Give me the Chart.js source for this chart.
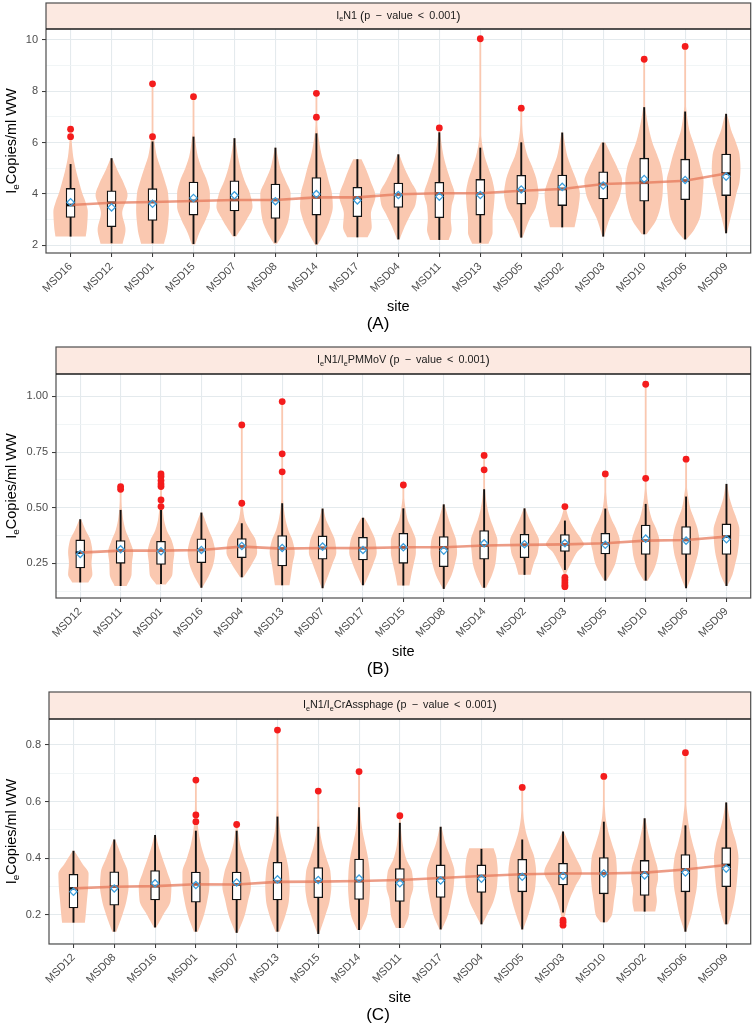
<!DOCTYPE html>
<html><head><meta charset="utf-8">
<script src="https://cdn.jsdelivr.net/npm/chart.js@4.4.1/dist/chart.umd.min.js"></script>
<style>
html,body{margin:0;padding:0;background:#fff;width:756px;height:1026px;overflow:hidden}
.p{position:absolute;left:0;width:756px}
canvas{display:block}
</style></head>
<body>
<div class="p" style="top:0;height:336px"><canvas id="cA" width="756" height="336"></canvas></div>
<div class="p" style="top:336px;height:344px"><canvas id="cB" width="756" height="344"></canvas></div>
<div class="p" style="top:680px;height:346px"><canvas id="cC" width="756" height="346"></canvas></div>
<script>
// ---------------- Panel A : IeN1 ----------------
const catsA = ['MSD16','MSD12','MSD01','MSD15','MSD07','MSD08','MSD14','MSD17','MSD04','MSD11','MSD13','MSD05','MSD02','MSD03','MSD10','MSD06','MSD09'];
const loA   = [2.33,2.07,2.07,2.04,2.35,2.09,2.03,2.30,2.22,2.20,2.09,2.29,2.69,2.33,2.42,2.22,2.46];
const q1A   = [3.08,2.72,2.96,3.17,3.33,3.04,3.17,3.11,3.47,3.07,3.17,3.60,3.54,3.80,3.71,3.77,3.93];
const medA  = [3.56,3.65,3.68,3.72,3.76,3.76,3.86,3.86,3.98,4.02,4.02,4.12,4.19,4.38,4.43,4.51,4.79];
const q3A   = [4.21,4.12,4.20,4.46,4.51,4.38,4.63,4.25,4.42,4.45,4.56,4.72,4.73,4.86,5.39,5.35,5.55];
const hiA   = [5.16,5.39,6.04,6.23,6.17,5.80,6.36,5.35,5.54,6.40,5.80,6.01,6.39,6.00,7.38,7.21,7.12];
const meanA = [3.67,3.47,3.61,3.84,3.94,3.71,3.99,3.74,3.95,3.89,3.95,4.17,4.27,4.32,4.58,4.54,4.67];
const outA  = [[6.23,6.52],[],[6.23,8.29],[7.79],[],[],[6.99,7.92],[],[],[6.57],[10.05],[7.34],[],[],[9.25],[9.75],[]];
const vioA = [
 [[2.33,0.37],[2.7,0.40],[3.3,0.42],[3.7,0.36],[4.0,0.29],[4.5,0.2],[5.0,0.12],[5.5,0.06],[6.0,0.03],[6.52,0.01]],
 [[2.05,0.27],[2.6,0.34],[3.25,0.26],[3.95,0.39],[4.4,0.3],[4.9,0.15],[5.39,0.02]],
 [[2.05,0.28],[2.6,0.36],[3.4,0.4],[4.0,0.38],[4.5,0.3],[5.0,0.2],[5.5,0.1],[6.0,0.05],[6.5,0.02],[8.29,0.01]],
 [[2.02,0.04],[2.5,0.15],[3.0,0.3],[3.5,0.4],[4.0,0.4],[4.5,0.33],[5.0,0.2],[5.5,0.1],[6.0,0.05],[6.5,0.02],[7.79,0.01]],
 [[2.33,0.04],[3.0,0.3],[3.5,0.44],[4.0,0.38],[4.5,0.25],[5.0,0.15],[5.5,0.08],[6.0,0.03],[6.17,0.01]],
 [[2.05,0.04],[2.5,0.2],[3.0,0.32],[3.5,0.36],[4.0,0.37],[4.5,0.25],[5.0,0.12],[5.5,0.05],[5.8,0.015]],
 [[2.0,0.03],[2.5,0.2],[3.0,0.33],[3.5,0.4],[4.0,0.38],[4.5,0.3],[5.0,0.22],[5.5,0.13],[6.0,0.07],[6.5,0.03],[7.0,0.015],[7.92,0.01]],
 [[2.3,0.25],[2.7,0.35],[3.2,0.33],[3.9,0.44],[4.5,0.32],[5.0,0.2],[5.35,0.1]],
 [[2.22,0.03],[2.7,0.15],[3.2,0.3],[3.6,0.42],[4.0,0.45],[4.5,0.3],[5.0,0.15],[5.54,0.02]],
 [[2.2,0.23],[2.6,0.3],[3.0,0.28],[3.5,0.3],[4.0,0.37],[4.5,0.28],[5.0,0.18],[5.5,0.1],[6.0,0.05],[6.57,0.01]],
 [[2.05,0.2],[2.5,0.3],[3.0,0.3],[3.5,0.33],[4.0,0.35],[4.5,0.3],[5.0,0.2],[5.5,0.1],[6.0,0.04],[6.5,0.015],[10.05,0.01]],
 [[2.29,0.03],[3.0,0.2],[3.5,0.36],[4.0,0.42],[4.5,0.38],[5.0,0.28],[5.5,0.15],[6.0,0.07],[6.5,0.03],[7.34,0.01]],
 [[2.69,0.3],[3.0,0.34],[3.5,0.4],[4.0,0.43],[4.5,0.35],[5.0,0.23],[5.5,0.12],[6.0,0.06],[6.39,0.02]],
 [[2.33,0.02],[3.0,0.15],[3.5,0.3],[4.0,0.42],[4.5,0.46],[5.0,0.35],[5.5,0.2],[6.0,0.05]],
 [[2.42,0.06],[3.0,0.3],[3.5,0.4],[4.0,0.45],[4.5,0.46],[5.0,0.42],[5.5,0.32],[6.0,0.2],[6.5,0.12],[7.0,0.06],[7.5,0.02],[9.25,0.01]],
 [[2.22,0.03],[2.6,0.22],[3.2,0.38],[4.0,0.43],[4.5,0.45],[5.0,0.38],[5.5,0.3],[6.0,0.2],[6.5,0.1],[7.0,0.05],[7.5,0.02],[9.75,0.01]],
 [[2.46,0.02],[3.0,0.1],[3.5,0.18],[4.0,0.25],[4.5,0.33],[5.0,0.35],[5.5,0.33],[6.0,0.24],[6.5,0.12],[7.0,0.04],[7.12,0.01]]
];
const yTickValsA = [2,3,4,5,6,7,8,9,10];
const yMajorA = [2,4,6,8,10];
const yLabelA = ['2','4','6','8','10'];
const stripA = [['I','n'],['e','s'],['N1 ','n'],['(','b'],['p \u2009\u2212\u2009 value \u2009<\u2009 0.001','n'],[')','b']];

// ---------------- Panel B : IeN1/IePMMoV ----------------
const catsB = ['MSD12','MSD11','MSD01','MSD16','MSD04','MSD13','MSD07','MSD17','MSD15','MSD08','MSD14','MSD02','MSD03','MSD05','MSD10','MSD06','MSD09'];
const loB   = [0.164,0.148,0.157,0.140,0.187,0.151,0.138,0.151,0.150,0.135,0.140,0.198,0.220,0.172,0.172,0.138,0.148];
const q1B   = [0.229,0.250,0.245,0.253,0.275,0.238,0.268,0.265,0.250,0.235,0.268,0.275,0.303,0.292,0.290,0.290,0.290];
const medB  = [0.298,0.307,0.307,0.310,0.325,0.316,0.319,0.318,0.322,0.322,0.330,0.333,0.335,0.340,0.352,0.355,0.370];
const q3B   = [0.355,0.352,0.349,0.360,0.361,0.375,0.373,0.367,0.385,0.370,0.397,0.380,0.379,0.385,0.422,0.415,0.427];
const hiB   = [0.448,0.490,0.490,0.478,0.430,0.520,0.496,0.455,0.497,0.515,0.583,0.497,0.442,0.496,0.517,0.550,0.607];
const meanB = [0.292,0.313,0.304,0.310,0.328,0.319,0.325,0.310,0.322,0.307,0.340,0.336,0.340,0.333,0.361,0.352,0.358];
const outB  = [[],[0.583,0.595],[0.505,0.535,0.595,0.607,0.622,0.640,0.652],[],[0.520,0.872],[0.661,0.742,0.977],[],[],[0.602],[],[0.670,0.735],[],[0.145,0.152,0.163,0.175,0.187,0.505],[0.652],[0.632,1.055],[0.718],[]];
const vioB = [
 [[0.164,0.2],[0.2,0.3],[0.25,0.28],[0.3,0.3],[0.35,0.26],[0.4,0.13],[0.448,0.02]],
 [[0.148,0.15],[0.2,0.27],[0.25,0.28],[0.3,0.31],[0.35,0.23],[0.4,0.12],[0.45,0.06],[0.5,0.03],[0.595,0.01]],
 [[0.155,0.12],[0.2,0.28],[0.25,0.3],[0.3,0.33],[0.35,0.27],[0.4,0.14],[0.45,0.07],[0.5,0.04],[0.55,0.02],[0.652,0.01]],
 [[0.14,0.02],[0.2,0.2],[0.25,0.3],[0.3,0.34],[0.35,0.29],[0.4,0.18],[0.45,0.08],[0.478,0.02]],
 [[0.187,0.04],[0.25,0.26],[0.3,0.38],[0.35,0.35],[0.4,0.2],[0.45,0.07],[0.5,0.03],[0.55,0.012],[0.872,0.01]],
 [[0.151,0.18],[0.2,0.22],[0.25,0.26],[0.3,0.31],[0.35,0.26],[0.4,0.15],[0.45,0.08],[0.5,0.04],[0.55,0.02],[0.977,0.01]],
 [[0.138,0.02],[0.2,0.15],[0.25,0.25],[0.3,0.34],[0.35,0.31],[0.4,0.2],[0.45,0.08],[0.496,0.02]],
 [[0.151,0.03],[0.2,0.15],[0.25,0.26],[0.3,0.34],[0.35,0.31],[0.4,0.2],[0.455,0.04]],
 [[0.15,0.15],[0.2,0.2],[0.25,0.26],[0.3,0.31],[0.35,0.31],[0.4,0.22],[0.45,0.1],[0.5,0.05],[0.55,0.02],[0.602,0.01]],
 [[0.135,0.02],[0.2,0.2],[0.25,0.28],[0.3,0.33],[0.35,0.31],[0.4,0.22],[0.45,0.12],[0.515,0.02]],
 [[0.14,0.05],[0.2,0.2],[0.25,0.28],[0.3,0.31],[0.35,0.33],[0.4,0.25],[0.45,0.15],[0.5,0.08],[0.55,0.04],[0.6,0.02],[0.735,0.01]],
 [[0.198,0.15],[0.25,0.23],[0.3,0.33],[0.35,0.36],[0.4,0.25],[0.45,0.12],[0.497,0.02]],
 [[0.145,0.01],[0.2,0.03],[0.25,0.15],[0.3,0.3],[0.335,0.47],[0.36,0.4],[0.4,0.25],[0.45,0.1],[0.505,0.015]],
 [[0.172,0.03],[0.22,0.18],[0.25,0.25],[0.3,0.31],[0.35,0.36],[0.4,0.28],[0.45,0.15],[0.5,0.06],[0.55,0.03],[0.6,0.015],[0.652,0.01]],
 [[0.172,0.05],[0.22,0.2],[0.25,0.26],[0.3,0.32],[0.35,0.34],[0.4,0.27],[0.45,0.15],[0.5,0.08],[0.55,0.04],[0.6,0.02],[1.055,0.01]],
 [[0.138,0.02],[0.2,0.15],[0.25,0.23],[0.3,0.3],[0.35,0.33],[0.4,0.29],[0.45,0.2],[0.5,0.1],[0.55,0.05],[0.6,0.02],[0.718,0.01]],
 [[0.148,0.02],[0.2,0.15],[0.25,0.22],[0.3,0.28],[0.35,0.31],[0.4,0.32],[0.45,0.25],[0.5,0.15],[0.55,0.07],[0.607,0.02]]
];
const yTickValsB = [0.125,0.25,0.375,0.5,0.625,0.75,0.875,1.0];
const yMajorB = [0.25,0.5,0.75,1.0];
const yLabelB = ['0.25','0.50','0.75','1.00'];
const stripB = [['I','n'],['e','s'],['N1/I','n'],['e','s'],['PMMoV ','n'],['(','b'],['p \u2009\u2212\u2009 value \u2009<\u2009 0.001','n'],[')','b']];

// ---------------- Panel C : IeN1/IeCrAssphage ----------------
const catsC = ['MSD12','MSD08','MSD16','MSD01','MSD07','MSD13','MSD15','MSD14','MSD11','MSD17','MSD04','MSD05','MSD03','MSD10','MSD02','MSD06','MSD09'];
const loC   = [0.172,0.140,0.155,0.140,0.136,0.140,0.132,0.146,0.153,0.148,0.166,0.148,0.208,0.173,0.211,0.140,0.166];
const q1C   = [0.224,0.234,0.252,0.244,0.252,0.252,0.260,0.254,0.247,0.261,0.279,0.281,0.305,0.274,0.268,0.281,0.299];
const medC  = [0.293,0.299,0.301,0.308,0.307,0.316,0.317,0.319,0.323,0.330,0.337,0.343,0.346,0.346,0.349,0.360,0.376];
const q3C   = [0.343,0.352,0.356,0.351,0.351,0.385,0.367,0.397,0.363,0.376,0.376,0.396,0.382,0.402,0.392,0.413,0.437];
const hiC   = [0.426,0.466,0.482,0.497,0.497,0.547,0.511,0.580,0.525,0.511,0.433,0.466,0.494,0.529,0.541,0.516,0.597];
const meanC = [0.281,0.293,0.311,0.305,0.314,0.325,0.323,0.328,0.311,0.321,0.327,0.334,0.337,0.346,0.339,0.349,0.363];
const outC  = [[],[],[],[0.529,0.553,0.676],[0.519],[0.853],[0.637],[0.706],[0.550],[],[],[0.650],[0.163,0.173,0.181],[0.689],[],[0.773],[]];
const vioC = [
 [[0.172,0.28],[0.2,0.3],[0.25,0.33],[0.3,0.36],[0.345,0.37],[0.38,0.22],[0.426,0.02]],
 [[0.14,0.05],[0.2,0.2],[0.25,0.3],[0.3,0.35],[0.35,0.33],[0.4,0.2],[0.466,0.02]],
 [[0.155,0.03],[0.2,0.2],[0.25,0.38],[0.3,0.4],[0.35,0.3],[0.4,0.18],[0.45,0.07],[0.482,0.02]],
 [[0.14,0.05],[0.2,0.2],[0.25,0.28],[0.3,0.33],[0.35,0.33],[0.4,0.22],[0.45,0.12],[0.5,0.06],[0.55,0.03],[0.676,0.01]],
 [[0.136,0.03],[0.2,0.2],[0.25,0.28],[0.3,0.35],[0.35,0.3],[0.4,0.18],[0.45,0.08],[0.519,0.01]],
 [[0.14,0.05],[0.2,0.2],[0.25,0.28],[0.3,0.3],[0.35,0.28],[0.4,0.22],[0.45,0.13],[0.5,0.06],[0.55,0.03],[0.6,0.015],[0.853,0.01]],
 [[0.132,0.02],[0.2,0.18],[0.25,0.28],[0.3,0.32],[0.35,0.3],[0.4,0.2],[0.45,0.1],[0.5,0.04],[0.55,0.02],[0.637,0.01]],
 [[0.146,0.05],[0.2,0.2],[0.25,0.25],[0.3,0.27],[0.35,0.26],[0.4,0.22],[0.45,0.15],[0.5,0.08],[0.55,0.04],[0.6,0.02],[0.706,0.01]],
 [[0.153,0.1],[0.2,0.22],[0.25,0.25],[0.3,0.33],[0.35,0.3],[0.4,0.15],[0.45,0.07],[0.5,0.03],[0.55,0.01]],
 [[0.148,0.03],[0.2,0.18],[0.25,0.26],[0.3,0.32],[0.35,0.34],[0.4,0.25],[0.45,0.12],[0.511,0.02]],
 [[0.166,0.02],[0.2,0.14],[0.25,0.3],[0.3,0.38],[0.35,0.4],[0.4,0.37],[0.435,0.3]],
 [[0.148,0.02],[0.2,0.15],[0.25,0.25],[0.3,0.32],[0.35,0.34],[0.4,0.3],[0.45,0.18],[0.5,0.08],[0.55,0.03],[0.6,0.015],[0.65,0.01]],
 [[0.163,0.01],[0.2,0.05],[0.25,0.15],[0.3,0.3],[0.35,0.46],[0.4,0.32],[0.45,0.15],[0.494,0.02]],
 [[0.173,0.08],[0.2,0.2],[0.25,0.25],[0.3,0.3],[0.35,0.32],[0.4,0.3],[0.45,0.2],[0.5,0.1],[0.55,0.04],[0.6,0.02],[0.689,0.01]],
 [[0.211,0.26],[0.25,0.3],[0.285,0.28],[0.33,0.33],[0.36,0.32],[0.4,0.25],[0.45,0.15],[0.5,0.07],[0.541,0.02]],
 [[0.14,0.02],[0.2,0.15],[0.25,0.22],[0.3,0.28],[0.35,0.3],[0.4,0.27],[0.45,0.18],[0.5,0.1],[0.55,0.05],[0.6,0.02],[0.773,0.01]],
 [[0.166,0.05],[0.2,0.12],[0.25,0.2],[0.3,0.25],[0.35,0.28],[0.4,0.3],[0.45,0.25],[0.5,0.15],[0.55,0.07],[0.597,0.02]]
];
const yTickValsC = [0.1,0.2,0.3,0.4,0.5,0.6,0.7,0.8];
const yMajorC = [0.2,0.4,0.6,0.8];
const yLabelC = ['0.2','0.4','0.6','0.8'];
const stripC = [['I','n'],['e','s'],['N1/I','n'],['e','s'],['CrAssphage ','n'],['(','b'],['p \u2009\u2212\u2009 value \u2009<\u2009 0.001','n'],[')','b']];

const yTitle = [['I','n'],['e','s'],['Copies/ml WW','n']];
const xTitle = 'site';

// ---------------- drawing helpers ----------------
const FONT = "'Liberation Sans', Arial, Helvetica, sans-serif";
const VIOLIN_FILL = '#FAC8B0';

function fontFor(kind, size){
  if (kind === 's') return (size*0.68).toFixed(1)+'px '+FONT;
  if (kind === 'b') return (size*1.18).toFixed(1)+'px '+FONT;
  return size+'px '+FONT;
}
function drawRich(ctx, parts, cx, cy, size, color){
  ctx.save();
  ctx.fillStyle = color; ctx.textBaseline = 'middle'; ctx.textAlign = 'left';
  const w = parts.map(p => { ctx.font = fontFor(p[1], size); return ctx.measureText(p[0]).width; });
  let x = cx - w.reduce((a,b)=>a+b,0)/2;
  parts.forEach((p,i) => {
    ctx.font = fontFor(p[1], size);
    const dy = p[1]==='s' ? size*0.32 : 0;
    ctx.fillText(p[0], x, cy+dy);
    x += w[i];
  });
  ctx.restore();
}
// piecewise cubic (no overshoot) through knots [value, halfwidth]
function interpKnots(k){
  const n = k.length, d = [], m = [];
  for (let i=0;i<n-1;i++) d.push((k[i+1][1]-k[i][1])/(k[i+1][0]-k[i][0]));
  for (let i=0;i<n;i++){
    if (i===0) m.push(d[0]); else if (i===n-1) m.push(d[n-2]);
    else {
      const d0=d[i-1], d1=d[i];
      if (d0*d1<=0) m.push(0);
      else { const h0=k[i][0]-k[i-1][0], h1=k[i+1][0]-k[i][0];
        m.push(3*(h0+h1)/((2*h1+h0)/d0 + (h1+2*h0)/d1)); }
    }
  }
  const pts = [];
  for (let i=0;i<n-1;i++){
    const v0=k[i][0], v1=k[i+1][0], h=v1-v0, y0=k[i][1], y1=k[i+1][1];
    const steps = 24;
    for (let s=0; s<(i===n-2?steps+1:steps); s++){
      const t=s/steps, t2=t*t, t3=t2*t;
      const val = (2*t3-3*t2+1)*y0 + (t3-2*t2+t)*h*m[i] + (-2*t3+3*t2)*y1 + (t3-t2)*h*m[i+1];
      pts.push([v0+t*h, Math.max(0,val)]);
    }
  }
  return pts;
}

function makePanel(P){
  const N = P.cats.length;
  const boxes = P.cats.map((c,i)=>({x:i+1, y:[P.q1[i], P.q3[i]]}));
  const trend = P.cats.map((c,i)=>({x:i+1, y:P.med[i]}));
  const means = P.cats.map((c,i)=>({x:i+1, y:P.mean[i]}));
  const outs = [];
  P.out.forEach((arr,i)=>arr.forEach(v=>outs.push({x:i+1, y:v})));
  const isMajor = v => P.yMajor.some(m => Math.abs(m-v)<1e-9);

  const plugin = {
    id: 'panel'+P.key,
    beforeDraw(chart){
      const ctx = chart.ctx, a = chart.chartArea;
      ctx.save();
      ctx.fillStyle = '#fff'; ctx.fillRect(0,0,chart.width,chart.height);
      ctx.fillStyle = '#FCE9E1';
      ctx.fillRect(a.left, a.top-P.stripH, a.right-a.left, P.stripH);
      ctx.restore();
    },
    beforeDatasetsDraw(chart){
      const ctx = chart.ctx, xs = chart.scales.x, ys = chart.scales.y, a = chart.chartArea;
      ctx.save();
      ctx.beginPath(); ctx.rect(a.left, a.top, a.right-a.left, a.bottom-a.top); ctx.clip();
      ctx.fillStyle = VIOLIN_FILL;
      P.vio.forEach((knots,i)=>{
        const xc = i+1, px = xs.getPixelForValue(xc);
        const pts = interpKnots(knots);
        ctx.beginPath();
        pts.forEach((p,j)=>{
          const hw = Math.max(0.9, xs.getPixelForValue(xc+p[1]) - px);
          const y = ys.getPixelForValue(p[0]);
          if (j===0) ctx.moveTo(px+hw,y); else ctx.lineTo(px+hw,y);
        });
        for (let j=pts.length-1;j>=0;j--){
          const p = pts[j];
          const hw = Math.max(0.9, xs.getPixelForValue(xc+p[1]) - px);
          ctx.lineTo(px-hw, ys.getPixelForValue(p[0]));
        }
        ctx.closePath(); ctx.fill();
      });
      ctx.restore();
    },
    beforeDatasetDraw(chart, args){
      if (args.index !== 0) return;
      const ctx = chart.ctx, xs = chart.scales.x, ys = chart.scales.y;
      ctx.save(); ctx.strokeStyle = '#111'; ctx.lineWidth = 1.9; ctx.lineCap = 'butt';
      P.cats.forEach((c,i)=>{
        const x = xs.getPixelForValue(i+1);
        ctx.beginPath(); ctx.moveTo(x, ys.getPixelForValue(P.lo[i])); ctx.lineTo(x, ys.getPixelForValue(P.hi[i])); ctx.stroke();
      });
      ctx.restore();
    },
    afterDatasetDraw(chart, args){
      if (args.index !== 0) return;
      const ctx = chart.ctx, xs = chart.scales.x, ys = chart.scales.y;
      ctx.save(); ctx.strokeStyle = '#111'; ctx.lineWidth = 2.6;
      P.cats.forEach((c,i)=>{
        const x = xs.getPixelForValue(i+1), y = ys.getPixelForValue(P.med[i]);
        ctx.beginPath(); ctx.moveTo(x-4.5, y); ctx.lineTo(x+4.5, y); ctx.stroke();
      });
      ctx.restore();
    },
    afterDraw(chart){
      const ctx = chart.ctx, a = chart.chartArea;
      ctx.save();
      ctx.strokeStyle = '#4D4D4D'; ctx.lineWidth = 1.2;
      ctx.strokeRect(a.left, a.top-P.stripH, a.right-a.left, a.bottom-a.top+P.stripH);
      ctx.strokeStyle = '#1A1A1A'; ctx.lineWidth = 1.6;
      ctx.beginPath(); ctx.moveTo(a.left, a.top); ctx.lineTo(a.right, a.top); ctx.stroke();
      ctx.restore();
      drawRich(ctx, P.strip, (a.left+a.right)/2, a.top-P.stripH/2, 10.8, '#1A1A1A');
      ctx.save(); ctx.translate(12, (a.top+a.bottom)/2); ctx.rotate(-Math.PI/2);
      drawRich(ctx, yTitle, 0, 0, 14.5, '#000'); ctx.restore();
      ctx.save(); ctx.fillStyle = '#000'; ctx.textAlign = 'center'; ctx.textBaseline = 'middle';
      ctx.font = '14.5px '+FONT; ctx.fillText(xTitle, (a.left+a.right)/2, a.bottom+54);
      ctx.font = '17px '+FONT; ctx.fillText(P.tag, 378, a.bottom+71);
      ctx.restore();
    }
  };

  return new Chart(document.getElementById(P.canvas), {
    type: 'scatter',
    data: { datasets: [
      { type:'bar', data: boxes, backgroundColor:'#ffffff', borderColor:'#111', borderWidth:1.3, borderSkipped:false, barThickness:9, order:4 },
      { type:'line', data: trend, borderColor:'rgba(229,118,88,0.72)', borderWidth:2.6, pointRadius:0, tension:0, fill:false, order:3 },
      { type:'scatter', data: means, pointStyle:'rectRot', pointRadius:3.6, borderColor:'#3E9FDC', backgroundColor:'rgba(0,0,0,0)', pointBorderWidth:1.3, borderWidth:1.3, order:2 },
      { type:'scatter', data: outs, pointStyle:'circle', pointRadius:3.4, backgroundColor:'#F41C1C', borderColor:'#F41C1C', borderWidth:0, order:1 }
    ]},
    options: {
      responsive:false, animation:false, devicePixelRatio:1, events:[],
      layout:{ padding:{ top:P.areaTop, left:0, right:3, bottom:0 } },
      plugins:{ legend:{display:false}, tooltip:{enabled:false}, title:{display:false} },
      scales:{
        x:{ type:'linear', min:0.4, max:N+0.6, offset:false, bounds:'data',
            afterBuildTicks: s => { s.ticks = P.cats.map((c,i)=>({value:i+1})); },
            afterFit: s => { s.height = P.H - P.areaBottom; },
            ticks:{ autoSkip:false, minRotation:45, maxRotation:45, padding:3, color:'#4D4D4D',
                    font:{family:FONT, size:11}, callback: v => P.cats[Math.round(v)-1] || '' },
            grid:{ offset:false, color:'#E4EAED', lineWidth:1.1, tickLength:4, tickColor:'#333', tickWidth:1 },
            border:{ display:false } },
        y:{ type:'linear', min:P.yMin, max:P.yMax, bounds:'data', beginAtZero:false,
            afterBuildTicks: s => { s.ticks = P.yTicks.map(v=>({value:v})); },
            afterFit: s => { s.width = P.areaLeft; },
            ticks:{ padding:4, color:'#4D4D4D', font:{family:FONT, size:11},
                    callback: v => { const k = P.yMajor.findIndex(m=>Math.abs(m-v)<1e-9); return k>=0 ? P.yLabels[k] : ''; } },
            grid:{ color: c => (c.tick && isMajor(c.tick.value)) ? '#E4EAED' : '#EEF2F4',
                   lineWidth: c => (c.tick && isMajor(c.tick.value)) ? 1.1 : 0.8,
                   tickLength:4, tickWidth:1,
                   tickColor: c => (c.tick && isMajor(c.tick.value)) ? '#333' : 'rgba(0,0,0,0)' },
            border:{ display:false } }
      }
    },
    plugins:[plugin]
  });
}

makePanel({key:'A', canvas:'cA', H:336, areaTop:29, areaBottom:253, areaLeft:46, stripH:26,
  cats:catsA, lo:loA, q1:q1A, med:medA, q3:q3A, hi:hiA, mean:meanA, out:outA, vio:vioA,
  yMin:1.69, yMax:10.43, yTicks:yTickValsA, yMajor:yMajorA, yLabels:yLabelA, strip:stripA, tag:'(A)'});
makePanel({key:'B', canvas:'cB', H:344, areaTop:38, areaBottom:262, areaLeft:56, stripH:27,
  cats:catsB, lo:loB, q1:q1B, med:medB, q3:q3B, hi:hiB, mean:meanB, out:outB, vio:vioB,
  yMin:0.094, yMax:1.101, yTicks:yTickValsB, yMajor:yMajorB, yLabels:yLabelB, strip:stripB, tag:'(B)'});
makePanel({key:'C', canvas:'cC', H:346, areaTop:39, areaBottom:264, areaLeft:49, stripH:27,
  cats:catsC, lo:loC, q1:q1C, med:medC, q3:q3C, hi:hiC, mean:meanC, out:outC, vio:vioC,
  yMin:0.0965, yMax:0.892, yTicks:yTickValsC, yMajor:yMajorC, yLabels:yLabelC, strip:stripC, tag:'(C)'});
</script>
</body></html>
